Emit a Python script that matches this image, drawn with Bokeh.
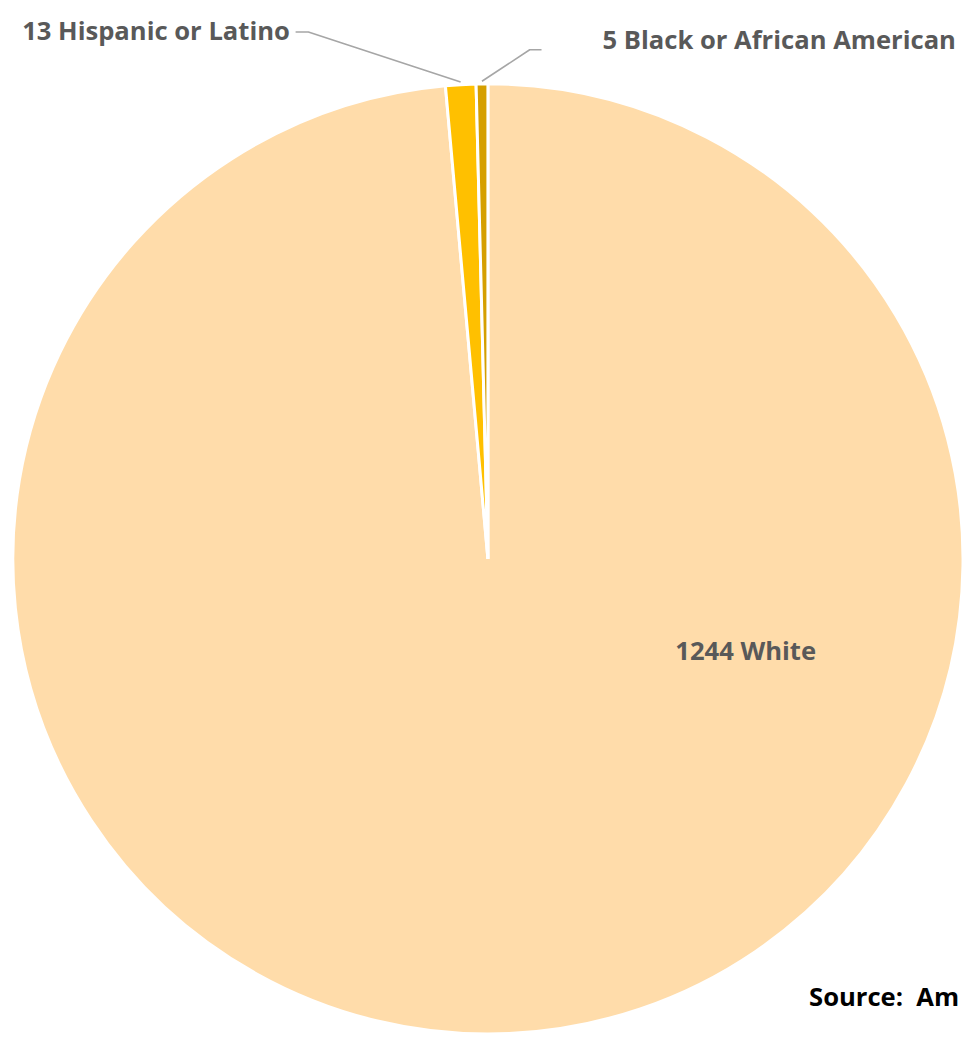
import numpy as np
from bokeh.plotting import figure
from bokeh.models import ColumnDataSource, Range1d
from bokeh.core.properties import value
from bokeh.embed import file_html
from bokeh.resources import INLINE

# ---- data ----
categories = ["White", "Hispanic or Latino", "Black or African American"]
counts = [1244, 13, 5]
colors = ["#FFDCAA", "#FFC000", "#D59F00"]
source_note = "Source:\u00a0 Am"

# ---- geometry (reference pixel space: x right, y down -> data y = -y) ----
cx, cy, R = 495.5, 567.0, 483.0
S = 964 / 980.0  # px per data unit

vals = np.array(counts, dtype=float)
cum = np.concatenate([[0.0], np.cumsum(vals)]) / vals.sum()
start = np.pi / 2 - 2 * np.pi * cum[:-1]
end = np.pi / 2 - 2 * np.pi * cum[1:]
mid = (start + end) / 2

src = ColumnDataSource(dict(cat=categories, val=counts, color=colors,
                            start=start, end=end))

p = figure(width=964, height=1036, x_range=Range1d(0, 980), y_range=Range1d(-1052, 0),
           output_backend="svg", toolbar_location=None, min_border=0,
           x_axis_type=None, y_axis_type=None, outline_line_color=None)
p.grid.visible = False
p.background_fill_color = "white"

p.wedge(x=cx, y=-cy, radius=R, start_angle="start", end_angle="end",
        direction="clock", fill_color="color", line_color="white",
        line_width=3, source=src)

# leader lines for the two small slices
ex = cx + (R + 2) * np.cos(mid)
ey = cy - (R + 2) * np.sin(mid)
lead_col = "#A6A6A6"
p.line(x=[300, 313, ex[1]], y=[-32, -32, -ey[1]], line_color=lead_col, line_width=1.6)
p.line(x=[550, 538, ex[2]], y=[-50, -50, -ey[2]], line_color=lead_col, line_width=1.6)

labels = [f"{v} {c}" for v, c in zip(counts, categories)]
font = value("Open Sans")
fs = f"{26 * S:.1f}px"
p.text(x=[686, 22, 612], y=[-660, -30, -40], text=labels,
       text_font=font, text_font_style="bold", text_font_size=fs,
       text_color="#595959", text_baseline="alphabetic", text_align="left")

p.text(x=[822], y=[-1011.5], text=[source_note], text_font=font,
       text_font_style="bold", text_font_size=fs, text_color="#000000",
       text_baseline="alphabetic", text_align="left")

open("out.html", "w").write(file_html(p, INLINE))
